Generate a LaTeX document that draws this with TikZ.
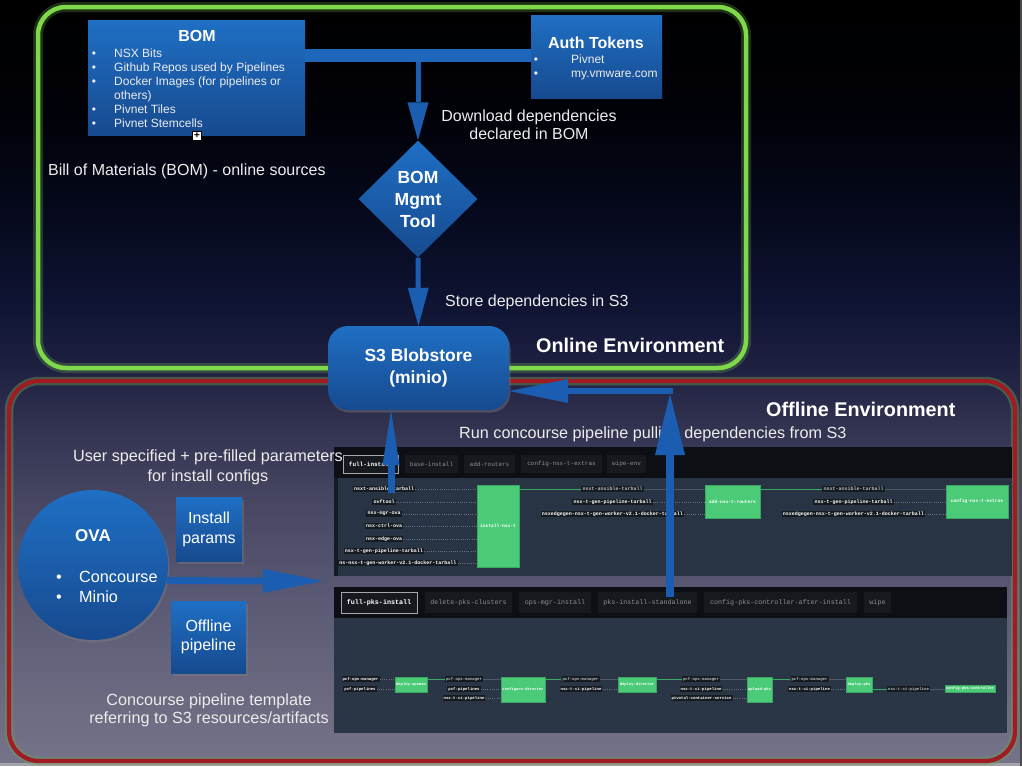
\documentclass[tikz,border=0pt]{standalone}
\usepackage{fontspec}
\setmainfont{Liberation Sans}
\setmonofont{Liberation Mono}
\usetikzlibrary{arrows.meta,shapes.geometric,shadows}
\definecolor{bg0}{HTML}{000000}
\definecolor{bg1}{HTML}{010209}
\definecolor{bg2}{HTML}{05081A}
\definecolor{bg3}{HTML}{0E1332}
\definecolor{bg4}{HTML}{1F2141}
\definecolor{bg5}{HTML}{30314F}
\definecolor{bg6}{HTML}{474763}
\definecolor{bg7}{HTML}{5B5A75}
\definecolor{bg8}{HTML}{6B6A81}
\definecolor{bg9}{HTML}{747389}
\definecolor{edgegray}{HTML}{A3A3AA}
\definecolor{boxtop}{HTML}{1F6FC4}
\definecolor{boxbot}{HTML}{174A8F}
\definecolor{arrowblue}{HTML}{1B5DB0}
\definecolor{barblue}{HTML}{1E67BB}
\definecolor{ongreen}{HTML}{7ED84A}
\definecolor{glowgreen}{HTML}{8DE05A}
\definecolor{offred}{HTML}{A01C22}
\definecolor{redglow}{HTML}{6D9A5A}
\definecolor{txtcol}{HTML}{ECECEC}
\definecolor{tabbar}{HTML}{0C1015}
\definecolor{panelbody}{HTML}{283443}
\definecolor{panelbodyb}{HTML}{2A3646}
\definecolor{lblbg}{HTML}{161B21}
\definecolor{tabbg}{HTML}{161A1F}
\definecolor{tabtext}{HTML}{8C9096}
\definecolor{cgreen}{HTML}{4BCA78}
\definecolor{cgreenD}{HTML}{3AA862}
\definecolor{dotgray}{HTML}{66707C}
\definecolor{linegray}{HTML}{4E5866}
\definecolor{lgray}{HTML}{B8BCC0}
\begin{document}
\begin{tikzpicture}[x=1pt,y=-1pt,
  bluebox/.style={top color=boxtop, bottom color=boxbot, draw=none, inner sep=0pt},
  shadowed/.style={drop shadow={opacity=0.4, shadow xshift=1.5pt, shadow yshift=-2.5pt}},
  wtxt/.style={text=txtcol, inner sep=0pt, font=\fontsize{16.2}{19}\selectfont},
  fixb/.style={text height=13pt, text depth=2pt},
  fixs/.style={text height=9.8pt, text depth=1.4pt},
  btitle/.style={text=white, inner sep=0pt, font=\bfseries\fontsize{16}{19}\selectfont},
  smalltxt/.style={text=txtcol, inner sep=0pt, font=\fontsize{12}{14}\selectfont, fixs},
  plabel/.style={fill=lblbg, text=white, inner xsep=1.2pt, inner ysep=0.8pt, font=\ttfamily\bfseries\fontsize{5}{5}\selectfont},
  plabelg/.style={plabel, text=lgray},
  qlabel/.style={fill=lblbg, text=white, inner xsep=1pt, inner ysep=0.8pt, font=\ttfamily\bfseries\fontsize{4}{4}\selectfont},
  qlabelg/.style={qlabel, text=lgray},
  gbox/.style={fill=cgreen, draw=cgreenD, line width=0.4pt, text=white, inner sep=0pt, font=\ttfamily\bfseries\fontsize{4.6}{5}\selectfont},
  qgbox/.style={gbox, font=\ttfamily\bfseries\fontsize{3.8}{4}\selectfont},
  tabbox/.style={fill=tabbg, text=tabtext, inner sep=0pt, font=\ttfamily\fontsize{6}{6}\selectfont},
  tabon/.style={tabbox, draw=gray!70, line width=0.6pt, text=white, font=\ttfamily\bfseries\fontsize{6}{6}\selectfont},
  dotline/.style={draw=dotgray, line width=0.6pt, dash pattern=on 0.8pt off 1.4pt},
  grline/.style={draw=cgreenD, line width=0.8pt},
  gyline/.style={draw=linegray, line width=0.8pt},
  fatarrow/.style n args={3}{draw=arrowblue, line width=#1pt, -{Triangle[length=#2pt,width=#3pt,line width=0pt]}}
]
\useasboundingbox (0,0) rectangle (1022,766);
% background
\shade[top color=bg0, bottom color=bg1] (0,0) rectangle (1022,121);
\shade[top color=bg1, bottom color=bg2] (0,120) rectangle (1022,201);
\shade[top color=bg2, bottom color=bg3] (0,200) rectangle (1022,301);
\shade[top color=bg3, bottom color=bg4] (0,300) rectangle (1022,371);
\shade[top color=bg4, bottom color=bg5] (0,370) rectangle (1022,421);
\shade[top color=bg5, bottom color=bg6] (0,420) rectangle (1022,501);
\shade[top color=bg6, bottom color=bg7] (0,500) rectangle (1022,601);
\shade[top color=bg7, bottom color=bg8] (0,600) rectangle (1022,701);
\shade[top color=bg8, bottom color=bg9] (0,700) rectangle (1022,763);
\fill[edgegray] (0,763) rectangle (1022,766);
\fill[gray!60!black] (1020,0) rectangle (1022,766);

% environments
\draw[glowgreen, opacity=0.22, line width=10pt, rounded corners=28pt] (38,7) rectangle (746,368);
\draw[ongreen, line width=4.5pt, rounded corners=28pt] (38,7) rectangle (746,368);
\draw[redglow, opacity=0.45, line width=8.5pt, rounded corners=30pt] (9,381) rectangle (1015,761);
\draw[offred, line width=4.2pt, rounded corners=30pt] (9,381) rectangle (1015,761);

% ---------- panel 1 ----------
\fill[tabbar] (334,447) rectangle (1012,478);
\fill[panelbody] (334,478) rectangle (1012,576);
\fill[tabbar!70!panelbody] (334,478) rectangle (338,576);
\node[tabon, minimum width=55pt, minimum height=18pt] (t1) at (370.5,464) {full-install};
\node[tabbox, minimum width=53pt, minimum height=18pt] (t2) at (431.5,464) {base-install};
\node[tabbox, minimum width=51pt, minimum height=18pt] (t3) at (489.5,464) {add-routers};
\node[tabbox, minimum width=81pt, minimum height=18pt] (t4) at (561.5,464) {config-nsx-t-extras};
\node[tabbox, minimum width=39pt, minimum height=18pt] (t5) at (626.5,464) {wipe-env};

\node[gbox, minimum width=42pt, minimum height=82pt] (inst) at (498,526) {install-nsx-t};
\node[gbox, minimum width=55pt, minimum height=33pt] (addr) at (732.5,501.5) {add-nsx-t-routers};
\node[gbox, minimum width=62pt, minimum height=33pt] (cfgx) at (977,501.5) {config-nsx-t-extras};

\node[plabel] (l1) at (384,489) {nsxt-ansible-tarball};
\node[plabel] (l2) at (384,502) {ovftool};
\node[plabel] (l3) at (384,514) {nsx-mgr-ova};
\node[plabel] (l4) at (384,526) {nsx-ctrl-ova};
\node[plabel] (l5) at (384,539) {nsx-edge-ova};
\node[plabel] (l6) at (384,551) {nsx-t-gen-pipeline-tarball};
\node[plabel, anchor=west] (l7) at (338,563) {ns-nsx-t-gen-worker-v2.1-docker-tarball};
\foreach \n in {l1,l2,l3,l4,l5,l6,l7} \draw[dotline] (\n.east) -- (\n.east -| inst.west);

\node[plabelg] (m1) at (612.5,489) {nsxt-ansible-tarball};
\node[plabel] (m2) at (612.5,502) {nsx-t-gen-pipeline-tarball};
\node[plabel] (m3) at (612.5,514) {nsxedgegen-nsx-t-gen-worker-v2.1-docker-tarball};
\draw[grline] (inst.east |- m1) -- (m1.west);
\draw[gyline] (m1.east) -- (m1.east -| addr.west);
\draw[dotline] (m2.east) -- (m2.east -| addr.west);
\draw[dotline] (m3.east) -- (m3.east -| addr.west);

\node[plabelg] (r1) at (853.5,489) {nsxt-ansible-tarball};
\node[plabel] (r2) at (853.5,502) {nsx-t-gen-pipeline-tarball};
\node[plabel] (r3) at (853.5,514) {nsxedgegen-nsx-t-gen-worker-v2.1-docker-tarball};
\draw[grline] (addr.east |- r1) -- (r1.west);
\draw[gyline] (r1.east) -- (r1.east -| cfgx.west);
\draw[dotline] (r2.east) -- (r2.east -| cfgx.west);
\draw[dotline] (r3.east) -- (r3.east -| cfgx.west);

% ---------- panel 2 ----------
\fill[tabbar] (334,587) rectangle (1007,618);
\fill[panelbodyb] (334,618) rectangle (1007,733);
\node[tabon, minimum width=76pt, minimum height=21pt, font=\ttfamily\bfseries\fontsize{6.7}{7}\selectfont] (u1) at (379,602.5) {full-pks-install};
\node[tabbox, minimum width=87pt, minimum height=21pt, font=\ttfamily\fontsize{6.7}{7}\selectfont] (u2) at (468.5,602.5) {delete-pks-clusters};
\node[tabbox, minimum width=72pt, minimum height=21pt, font=\ttfamily\fontsize{6.7}{7}\selectfont] (u3) at (555,602.5) {ops-mgr-install};
\node[tabbox, minimum width=99pt, minimum height=21pt, font=\ttfamily\fontsize{6.7}{7}\selectfont] (u4) at (647.5,602.5) {pks-install-standalone};
\node[tabbox, minimum width=153pt, minimum height=21pt, font=\ttfamily\fontsize{6.7}{7}\selectfont] (u5) at (780.5,602.5) {config-pks-controller-after-install};
\node[tabbox, minimum width=27pt, minimum height=21pt, font=\ttfamily\fontsize{6.7}{7}\selectfont] (u6) at (877.5,602.5) {wipe};

\node[qgbox, minimum width=32pt, minimum height=15pt] (dop) at (411,684.5) {deploy-opsman};
\node[qgbox, minimum width=44pt, minimum height=25pt] (cdir) at (523,689.5) {configure-director};
\node[qgbox, minimum width=38pt, minimum height=15pt] (ddir) at (637,684.5) {deploy-director};
\node[qgbox, minimum width=25pt, minimum height=25pt] (upks) at (759.5,689.5) {upload-pks};
\node[qgbox, minimum width=26pt, minimum height=15pt] (dpks) at (859,684.5) {deploy-pks};
\node[qgbox, minimum width=50pt, minimum height=7pt] (cpks) at (970,688.5) {config-pks-controller};

\node[qlabel] (q1) at (360.5,679) {pcf-ops-manager};
\node[qlabel] (q2) at (360,689) {pcf-pipelines};
\node[qlabelg] (q3) at (464,679) {pcf-ops-manager};
\node[qlabel] (q4) at (464,689) {pcf-pipelines};
\node[qlabel] (q5) at (464,698) {nsx-t-ci-pipeline};
\node[qlabelg] (q6) at (580.5,679) {pcf-ops-manager};
\node[qlabel] (q7) at (581,689) {nsx-t-ci-pipeline};
\node[qlabelg] (q8) at (701,679) {pcf-ops-manager};
\node[qlabel] (q9) at (701,689) {nsx-t-ci-pipeline};
\node[qlabel] (q10) at (701.5,698) {pivotal-container-service};
\node[qlabelg] (q11) at (809.5,679) {pcf-ops-manager};
\node[qlabel] (q12) at (809.5,689) {nsx-t-ci-pipeline};
\node[qlabelg] (q13) at (908.5,689) {nsx-t-ci-pipeline};

\draw[dotline] (q1.east) -- (q1.east -| dop.west);
\draw[dotline] (q2.east) -- (q2.east -| dop.west);
\draw[grline] (dop.east |- q3) -- (q3.west);
\draw[gyline] (q3.east) -- (q3.east -| cdir.west);
\draw[dotline] (q4.east) -- (q4.east -| cdir.west);
\draw[dotline] (q5.east) -- (q5.east -| cdir.west);
\draw[grline] (cdir.east |- q6) -- (q6.west);
\draw[gyline] (q6.east) -- (q6.east -| ddir.west);
\draw[dotline] (q7.east) -- (q7.east -| ddir.west);
\draw[grline] (ddir.east |- q8) -- (q8.west);
\draw[gyline] (q8.east) -- (q8.east -| upks.west);
\draw[dotline] (q9.east) -- (q9.east -| upks.west);
\draw[dotline] (q10.east) -- (q10.east -| upks.west);
\draw[grline] (upks.east |- q11) -- (q11.west);
\draw[gyline] (q11.east) -- (q11.east -| dpks.west);
\draw[dotline] (q12.east) -- (q12.east -| dpks.west);
\draw[grline] (dpks.east |- q13) -- (q13.west);
\draw[gyline] (q13.east) -- (q13.east -| cpks.west);

% ---------- online boxes ----------
\node[bluebox, minimum width=217pt, minimum height=115pt] (bom) at (196.5,77.5) {};
\node[bluebox, minimum width=131pt, minimum height=83pt] (auth) at (596.5,56.5) {};
\coordinate (bary) at (0,55.5);
\draw[barblue, line width=13pt] (bom.east |- bary) -- (auth.west |- bary);

\node[btitle] (bomt) at (197,36) {BOM};
\foreach \i/\y in {1/53,2/67,3/81,5/109,6/123}
  \node[smalltxt] (bb\i) at (94,\y) {•};
\node[smalltxt, anchor=west] (b1) at (114,53) {NSX Bits};
\node[smalltxt, anchor=west] (b2) at (114,67) {Github Repos used by Pipelines};
\node[smalltxt, anchor=west] (b3) at (114,81) {Docker Images (for pipelines or};
\node[smalltxt, anchor=west] (b4) at (114,95) {others)};
\node[smalltxt, anchor=west] (b5) at (114,109) {Pivnet Tiles};
\node[smalltxt, anchor=west] (b6) at (114,123) {Pivnet Stemcells};
\node[draw=black, fill=white, line width=0.5pt, minimum size=9pt, inner sep=0pt, font=\bfseries\fontsize{10}{10}\selectfont] (plusm) at (197,135.5) {+};

\node[btitle] (autht) at (596,43) {Auth Tokens};
\node[smalltxt] (ab1) at (536,59) {•};
\node[smalltxt] (ab2) at (536,73) {•};
\node[smalltxt, anchor=west] (a1) at (571,59) {Pivnet};
\node[smalltxt, anchor=west] (a2) at (571,73) {my.vmware.com};

\node[diamond, bluebox, minimum width=119pt, minimum height=117pt] (mgmt) at (418,199) {};
\node[btitle, align=center, font=\bfseries\fontsize{17.5}{22}\selectfont] (mgmtt) at (mgmt.center) {BOM\\Mgmt\\Tool};

\node[bluebox, shadowed, rounded corners=20pt, minimum width=181pt, minimum height=84pt, text=white, align=center, font=\bfseries\fontsize{17.5}{22}\selectfont] (s3) at (418.5,368) {S3 Blobstore\\(minio)};

% ---------- offline boxes ----------
\node[circle, bluebox, shadowed, minimum size=150pt] (ova) at (93,565) {};
\node[btitle, font=\bfseries\fontsize{17}{20}\selectfont] (ovat) at (93,536) {OVA};
\node[wtxt, fixb, text=white] (ob1) at (59,577) {•};
\node[wtxt, fixb, text=white] (ob2) at (59,597) {•};
\node[wtxt, fixb, text=white, anchor=west] (oc) at (79,577) {Concourse};
\node[wtxt, fixb, text=white, anchor=west] (om) at (79,597) {Minio};

\node[bluebox, shadowed, minimum width=66pt, minimum height=64pt, text=white, align=center, font=\fontsize{16}{20}\selectfont] (instp) at (209,529) {Install\\params};
\node[bluebox, shadowed, minimum width=75pt, minimum height=72pt, text=white, align=center, font=\fontsize{16}{19}\selectfont] (offp) at (208.5,637) {Offline\\pipeline};

% ---------- texts ----------
\node[wtxt, align=center, font=\fontsize{16}{18}\selectfont] (dl) at (529,125) {Download dependencies\\declared in BOM};
\node[wtxt, fixb, anchor=west, font=\fontsize{16}{18}\selectfont] (bill) at (48,170) {Bill of Materials (BOM) - online sources};
\node[wtxt, fixb, anchor=west, font=\fontsize{16}{18}\selectfont] (store) at (445,301) {Store dependencies in S3};
\node[btitle, anchor=west, font=\bfseries\fontsize{19.8}{22}\selectfont] (onl) at (536,345) {Online Environment};
\node[btitle, anchor=west, font=\bfseries\fontsize{19.8}{22}\selectfont] (offl) at (766,409) {Offline Environment};
\node[wtxt, fixb, anchor=west] (run) at (459,433) {Run concourse pipeline pulling dependencies from S3};
\node[wtxt, align=center, font=\fontsize{16.2}{20}\selectfont] (user) at (208,467) {User specified + pre-filled parameters\\for install configs};
\node[wtxt, align=center, font=\fontsize{16.2}{18}\selectfont] (tmpl) at (209,710) {Concourse pipeline template\\referring to S3 resources/artifacts};

% ---------- arrows ----------
\coordinate (barmid) at (418,62);
\draw[fatarrow={5}{38}{21}] (barmid) -- (mgmt.north);
\draw[fatarrow={5}{38}{21}] (mgmt.south) -- (s3.north);
\coordinate (ovatip) at (323,581);
\draw[fatarrow={7}{60}{24}] (ova.-12) -- (ovatip);
\coordinate (p1up) at (391,493);
\draw[fatarrow={7}{55}{17}] (p1up) -- (s3.south -| p1up);
\coordinate (p2up) at (670,597);
\coordinate (p2tip) at (670,394);
\draw[fatarrow={8}{61}{30}] (p2up) -- (p2tip);
\coordinate (hstart) at (673,391);
\draw[fatarrow={6}{59}{24}] (hstart) -- (s3.east |- hstart);
\end{tikzpicture}
\end{document}
